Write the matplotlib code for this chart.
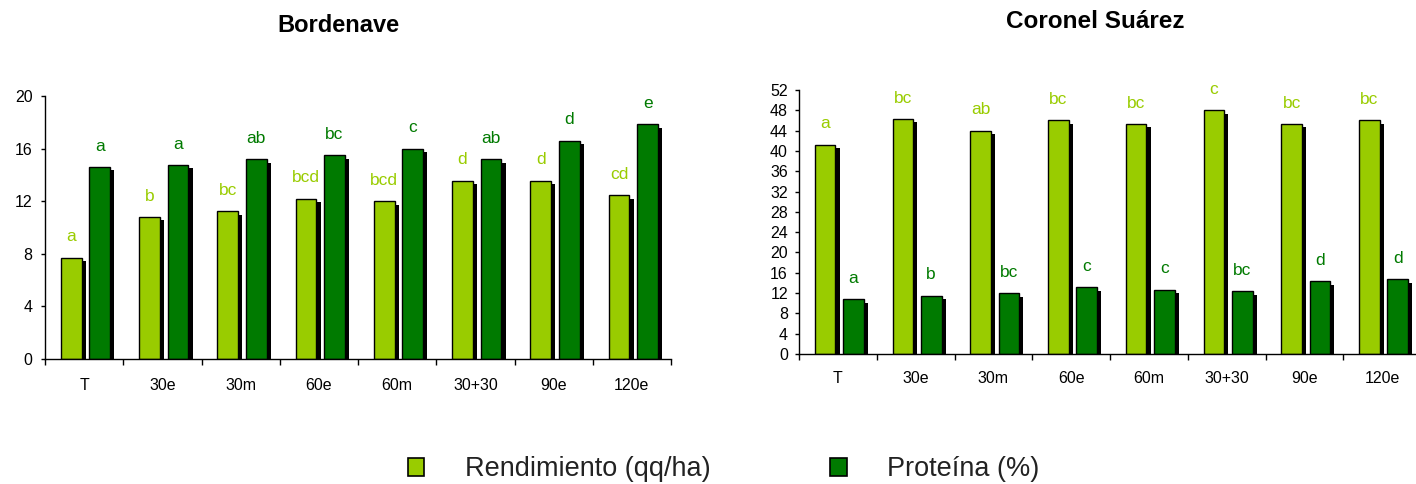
import numpy as np
import matplotlib
matplotlib.use("Agg")
import matplotlib.pyplot as plt
import matplotlib.patheffects as pe
from matplotlib.patches import Patch

plt.rcParams['font.family'] = ['Liberation Sans', 'DejaVu Sans']

categories = ['T', '30e', '30m', '60e', '60m', '30+30', '90e', '120e']

# Bordenave
bord_rend = [7.7, 10.8, 11.25, 12.2, 12.0, 13.55, 13.55, 12.45]
bord_prot = [14.6, 14.75, 15.2, 15.5, 16.0, 15.2, 16.6, 17.85]
bord_rend_let = ['a', 'b', 'bc', 'bcd', 'bcd', 'd', 'd', 'cd']
bord_prot_let = ['a', 'a', 'ab', 'bc', 'c', 'ab', 'd', 'e']

# Coronel Suarez
cs_rend = [41.2, 46.3, 44.0, 46.0, 45.3, 48.0, 45.3, 46.0]
cs_prot = [10.8, 11.5, 12.0, 13.1, 12.7, 12.4, 14.3, 14.7]
cs_rend_let = ['a', 'bc', 'ab', 'bc', 'bc', 'c', 'bc', 'bc']
cs_prot_let = ['a', 'b', 'bc', 'c', 'c', 'bc', 'd', 'd']

light = '#99CC00'
dark = '#007A00'


def draw_panel(ax, rend, prot, rend_let, prot_let, ymax, pad_x, pad_y):
    x = np.arange(len(categories)) + 0.5
    w = 0.265
    shadow = [pe.SimplePatchShadow(offset=(3, -2.5), shadow_rgbFace='black', alpha=1.0),
              pe.Normal()]
    b1 = ax.bar(x - 0.165, rend, w, color=light, edgecolor='black', linewidth=1)
    b2 = ax.bar(x + 0.2, prot, w, color=dark, edgecolor='black', linewidth=1)
    for b in list(b1) + list(b2):
        b.set_path_effects(shadow)
    for xi, v, t in zip(x - 0.165, rend, rend_let):
        ax.annotate(t, (xi, v), xytext=(0, 15), textcoords='offset points',
                    ha='center', va='center', color=light, fontsize=12.5)
    for xi, v, t in zip(x + 0.2, prot, prot_let):
        ax.annotate(t, (xi, v), xytext=(0, 15), textcoords='offset points',
                    ha='center', va='center', color=dark, fontsize=12.5)

    ax.set_xlim(0, len(categories))
    ax.set_ylim(0, ymax)
    ax.set_yticks(np.arange(0, ymax + 1, 4))
    ax.set_xticks(x)
    ax.set_xticklabels(categories)
    ax.set_xticks(np.arange(len(categories) + 1), minor=True)
    ax.tick_params(axis='x', which='major', length=0, pad=pad_x, labelsize=11.5)
    ax.tick_params(axis='x', which='minor', length=4.3, width=1, direction='out')
    ax.tick_params(axis='y', length=3, width=1, direction='out', pad=pad_y, labelsize=11.5)
    for s in ['top', 'right']:
        ax.spines[s].set_visible(False)
    for s in ['left', 'bottom']:
        ax.spines[s].set_linewidth(1)


fig = plt.figure(figsize=(14.16, 4.84), dpi=100)

ax1 = fig.add_axes([0.0318, 0.2583, 0.4421, 0.5434])
draw_panel(ax1, bord_rend, bord_prot, bord_rend_let, bord_prot_let, 20, 14, 6)
fig.text(338 / 1416, 1 - 26 / 484, 'Bordenave', ha='center', va='center',
         fontsize=17, fontweight='bold')

ax2 = fig.add_axes([0.5643, 0.2686, 0.4393, 0.5455])
draw_panel(ax2, cs_rend, cs_prot, cs_rend_let, cs_prot_let, 52, 12.5, 5)
fig.text(1095 / 1416, 1 - 21 / 484, 'Coronel Suárez', ha='center', va='center',
         fontsize=17.5, fontweight='bold')

handles = [Patch(facecolor=light, edgecolor='black', linewidth=1.2),
           Patch(facecolor=dark, edgecolor='black', linewidth=1.2)]
fig.legend(handles, ['Rendimiento (qq/ha)', 'Proteína (%)'], loc='center',
           bbox_to_anchor=(0.511, 0.03), ncol=2, frameon=False, fontsize=19.5,
           labelcolor='#222222',
           handlelength=0.62, handleheight=0.62, handletextpad=1.5,
           columnspacing=4.4)

fig.savefig('out.png', dpi=100)
